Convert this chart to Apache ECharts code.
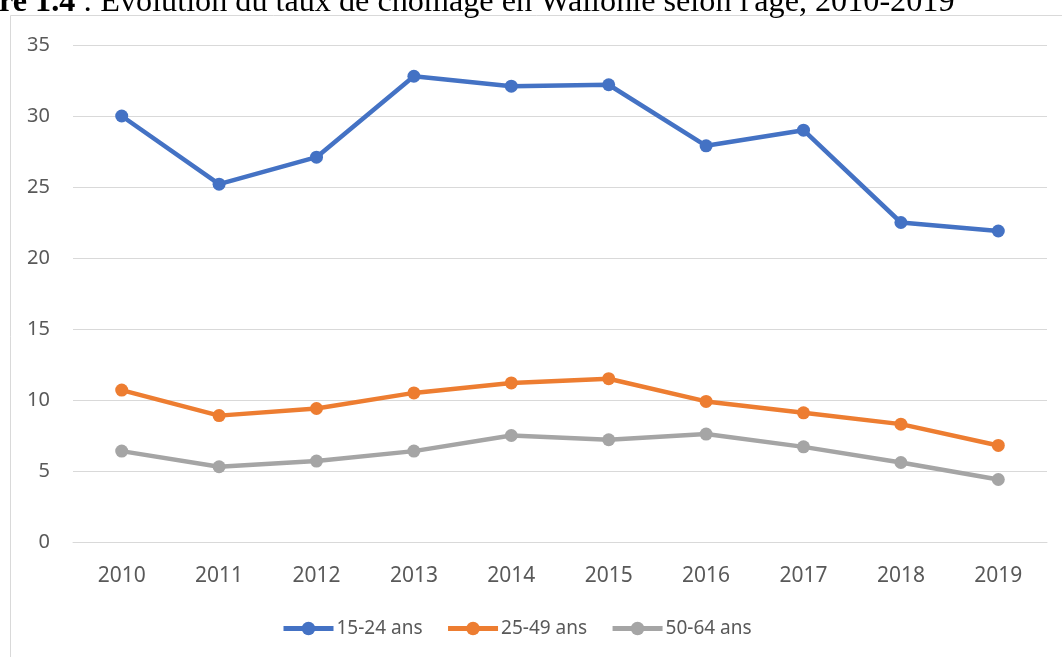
<!DOCTYPE html>
<html>
<head>
<meta charset="utf-8">
<script src="https://cdn.jsdelivr.net/npm/echarts@6/dist/echarts.min.js"></script>
<style>
html, body { margin: 0; padding: 0; background: #fff; }
#chart { width: 1062px; height: 657px; }
</style>
</head>
<body>
<div id="chart"></div>
<script>
var years = ["2010", "2011", "2012", "2013", "2014", "2015", "2016", "2017", "2018", "2019"];
var serieNames = ["15-24 ans", "25-49 ans", "50-64 ans"];
var jeunes = [30.0, 25.2, 27.1, 32.8, 32.1, 32.2, 27.9, 29.0, 22.5, 21.9];
var adultes = [10.7, 8.9, 9.4, 10.5, 11.2, 11.5, 9.9, 9.1, 8.3, 6.8];
var seniors = [6.4, 5.3, 5.7, 6.4, 7.5, 7.2, 7.6, 6.7, 5.6, 4.4];
var colorList = ["#4472C4", "#ED7D31", "#A5A5A5"];
var yTicks = [0, 5, 10, 15, 20, 25, 30, 35];

var myChart = echarts.init(document.getElementById("chart"));

function makeSerie(name, data, color) {
	return {
		name: name,
		type: "line",
		data: data,
		symbol: "circle",
		symbolSize: 13,
		color: color,
		lineStyle: { width: 4.5, color: color },
		itemStyle: { color: color },
		emphasis: { disabled: true },
		animation: false
	};
}

var option = {
	animation: false,
	title: {
		text: "{b|re 1.4} : Évolution du taux de chômage en Wallonie selon l'âge, 2010-2019",
		left: -1,
		top: -13,
		padding: 0,
		textStyle: {
			fontFamily: "Liberation Serif",
			fontSize: 32.2,
			fontWeight: "normal",
			color: "#000",
			rich: {
				b: { fontFamily: "Liberation Serif", fontSize: 32.2, fontWeight: "bold", color: "#000" }
			}
		}
	},
	graphic: [{
		type: "rect",
		shape: { x: 10.5, y: 15.5, width: 1100, height: 700 },
		style: { fill: "none", stroke: "#d9d9d9", lineWidth: 1 },
		silent: true
	}],
	legend: {
		data: serieNames,
		left: 281,
		top: 619,
		padding: 0,
		itemWidth: 50,
		itemHeight: 17,
		itemGap: 23,
		lineStyle: { width: 5 },
		textStyle: { fontFamily: "Noto Sans", fontSize: 19, color: "#595959", padding: [0, 0, 0, -2] }
	},
	grid: {
		left: 73,
		right: 15,
		top: 45,
		bottom: 115
	},
	xAxis: {
		type: "category",
		data: years,
		boundaryGap: true,
		axisLine: { show: true, lineStyle: { color: "#d9d9d9", width: 1 } },
		axisTick: { show: false },
		axisLabel: { fontFamily: "Noto Sans", fontSize: 21, color: "#595959", margin: 24 }
	},
	yAxis: {
		type: "value",
		min: yTicks[0],
		max: yTicks[yTicks.length - 1],
		interval: 5,
		axisLine: { show: false },
		axisTick: { show: false },
		splitLine: { lineStyle: { color: "#d9d9d9", width: 1 } },
		axisLabel: { fontFamily: "Noto Sans", fontSize: 20, color: "#595959", margin: 23 }
	},
	series: [
		makeSerie(serieNames[0], jeunes, colorList[0]),
		makeSerie(serieNames[1], adultes, colorList[1]),
		makeSerie(serieNames[2], seniors, colorList[2])
	]
};

myChart.setOption(option);
</script>
</body>
</html>
